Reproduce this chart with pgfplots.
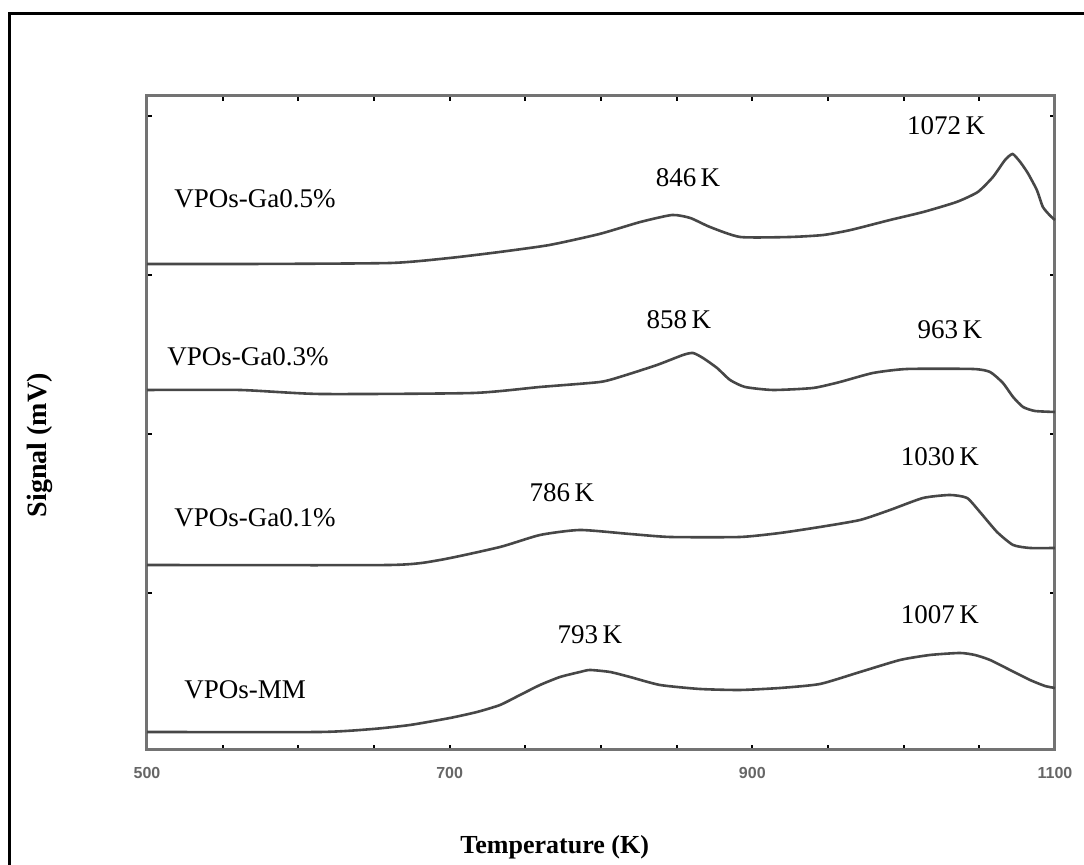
\documentclass[border=0pt]{standalone}
\usepackage{fontspec}
\setmainfont{Liberation Serif}
\newfontfamily\ticksf{Liberation Sans}
\usepackage{pgfplots}
\pgfplotsset{compat=1.18}
\begin{document}
\begin{tikzpicture}
\useasboundingbox (0,0) rectangle (542pt,432.5pt);
\draw[line width=1.5pt, black] (4.75pt,-1pt) -- (4.75pt,425.75pt) -- (543pt,425.75pt);
\begin{axis}[
  at={(73.5pt,57.5pt)}, anchor=south west,
  scale only axis, width=454pt, height=327pt,
  xmin=500, xmax=1100, ymin=0, ymax=654,
  axis line style={line width=1.5pt, black!55},
  xtick={500,700,900,1100},
  minor xtick={550,600,650,750,800,850,950,1000,1050},
  ytick={157,316,475,634}, yticklabels={},
  tick align=inside, major tick length=2.5pt, minor tick length=2.5pt,
  tick style={black, line width=1pt},
  xtick pos=both, ytick pos=both,
  /pgf/number format/assume math mode=true,
  /pgf/number format/1000 sep={},
  xticklabel style={font=\ticksf\bfseries\fontsize{8}{10}\selectfont, text=black!60, yshift=-5pt},
  xlabel={Temperature (K)},
  xlabel style={at={(axis description cs:0.449,-0.148)}, anchor=center, font=\bfseries\fontsize{13}{15}\selectfont},
  ylabel={Signal (mV)},
  ylabel style={at={(axis description cs:-0.118,0.466)}, anchor=center, font=\bfseries\fontsize{14}{16}\selectfont},
  curve/.style={line width=1.3pt, draw=black!72, no markers, smooth, tension=0.35},
  clip=false,
]
% VPOs-Ga0.5%
\addplot[curve] coordinates {
(500,486)(568,486)(661,487)(700,492)(733,498)(766,505)(799,516)(826,528)(847,535)(859,532)(872,523)(892,513)(925,513)(947,515)(965,520)(991,530)(1013,538)(1035,548)(1049,558)(1059,573)(1067,590)(1072,596)(1077,588)(1082,577)(1088,560)(1092,543)(1097,534)(1100,530)};
% VPOs-Ga0.3%
\addplot[curve] coordinates {
(500,360)(561.5,360)(614.3,356)(715.4,357)(759.7,363)(799.3,368)(814.5,374)(837,385)(854.2,395)(860.8,397)(867.4,392)(876.7,382)(885.3,370)(895.2,363)(913.7,360)(940.1,362)(957.9,368)(979.7,377)(1002.2,381)(1045.8,381)(1057.1,378)(1065.6,367)(1072.3,353)(1078.9,343)(1086.8,339)(1100,338)};
% VPOs-Ga0.1%
\addplot[curve] coordinates {
(500,185)(660.6,185)(693.6,190)(733.3,203)(759.7,215)(786.1,220)(819.2,216)(845.6,213)(891.9,213)(918.3,217)(944.7,223)(971.2,230)(991,240)(1012.8,252)(1030.6,255)(1041.9,252)(1050.4,238)(1061.7,218)(1072.3,205)(1083.5,202)(1100,202)};
% VPOs-MM
\addplot[curve] coordinates {
(500,18)(614.3,18)(649.3,21)(673.8,25)(700.2,32)(718.1,38)(733.3,45)(746.5,55)(759.7,65)(772.9,73)(786.1,78)(792.7,80)(806,78)(819.2,73)(839,65)(865.4,61)(891.9,60)(918.3,62)(944.7,66)(971.2,78)(997.6,90)(1017.4,95)(1037.2,97)(1047.1,95)(1057.1,90)(1070.3,80)(1083.5,70)(1093.4,64)(1100,62)};
\begin{scope}[every node/.style={font=\fontsize{13.5}{16}\selectfont, anchor=center, inner sep=0pt}]
\node at (axis cs:571.4,551) {VPOs-Ga0.5\%};
\node at (axis cs:857.5,572) {846\,K};
\node at (axis cs:1028,624) {1072\,K};
\node at (axis cs:566.7,393) {VPOs-Ga0.3\%};
\node at (axis cs:851.5,430) {858\,K};
\node at (axis cs:1030.6,420) {963\,K};
\node at (axis cs:571.4,232) {VPOs-Ga0.1\%};
\node at (axis cs:774.2,257) {786\,K};
\node at (axis cs:1024,293) {1030\,K};
\node at (axis cs:564.8,60) {VPOs-MM};
\node at (axis cs:792.7,115) {793\,K};
\node at (axis cs:1024,135) {1007\,K};
\end{scope}
\end{axis}
\end{tikzpicture}
\end{document}
